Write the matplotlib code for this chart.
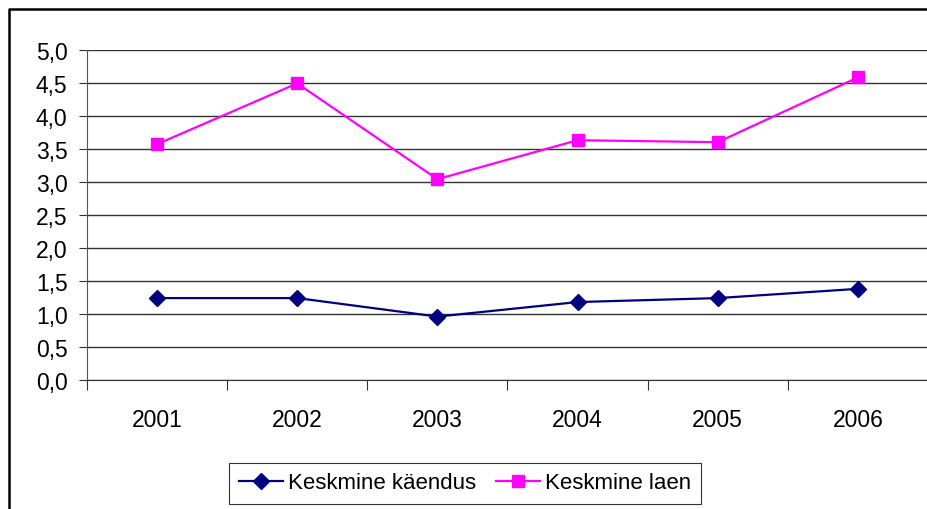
import matplotlib
matplotlib.use("Agg")
import matplotlib.pyplot as plt
from matplotlib.lines import Line2D
from matplotlib.ticker import FuncFormatter, MultipleLocator

# ─── andmed ──────────────────────────────────────────────────────────────────
years = ["2001", "2002", "2003", "2004", "2005", "2006"]
kaendus = [1.24, 1.24, 0.96, 1.18, 1.24, 1.38]
laen = [3.57, 4.49, 3.04, 3.63, 3.60, 4.58]

plt.rcParams["font.family"] = ["Liberation Sans", "DejaVu Sans"]

fig = plt.figure(figsize=(9.28, 5.10), dpi=100)
ax = fig.add_axes([87 / 928, 1 - 381 / 510, 1 - 87 / 928, (381 - 50.7) / 510])

x = list(range(len(years)))
ax.plot(x, kaendus, color="#000080", lw=1.6, marker="D", ms=8,
        label="Keskmine käendus", clip_on=False)
ax.plot(x, laen, color="#FF00FF", lw=1.6, marker="s", ms=8,
        label="Keskmine laen", clip_on=False)

ax.set_xlim(-0.5, len(years) - 0.5)
ax.set_ylim(0, 5)
ax.yaxis.set_major_locator(MultipleLocator(0.5))
ax.yaxis.set_major_formatter(FuncFormatter(lambda v, _: f"{v:.1f}".replace(".", ",")))
ax.grid(axis="y", color="#333333", lw=1)
ax.set_axisbelow(True)

# kategooriate piirid x-teljel
ax.set_xticks([i - 0.5 for i in range(len(years) + 1)], minor=False)
ax.set_xticklabels([])
ax.set_xticks(x, minor=True)
ax.set_xticklabels(years, minor=True)
ax.tick_params(axis="x", which="major", direction="out", length=7, color="#333333")
ax.tick_params(axis="x", which="minor", length=0, labelsize=16.5, pad=20)
ax.tick_params(axis="y", direction="out", length=6, labelsize=16.5, pad=8, color="#333333")

for s in ["top", "right"]:
    ax.spines[s].set_visible(False)
ax.spines["left"].set_color("#555555")
ax.spines["bottom"].set_color("#333333")

leg = fig.legend(loc="center", bbox_to_anchor=(465 / 928, 1 - 484 / 510), ncol=2,
                 frameon=True, fancybox=False, edgecolor="black", fontsize=16,
                 handlelength=2.0, handletextpad=0.2, columnspacing=0.9,
                 borderpad=0.45)
leg.get_frame().set_linewidth(0.8)

# välimine raam
fig.add_artist(Line2D([9 / 928, 9 / 928, 1.01], [0, 1 - 10 / 510, 1 - 10 / 510],
                      transform=fig.transFigure, color="black", lw=1.8))

fig.savefig("out.png", dpi=100)
